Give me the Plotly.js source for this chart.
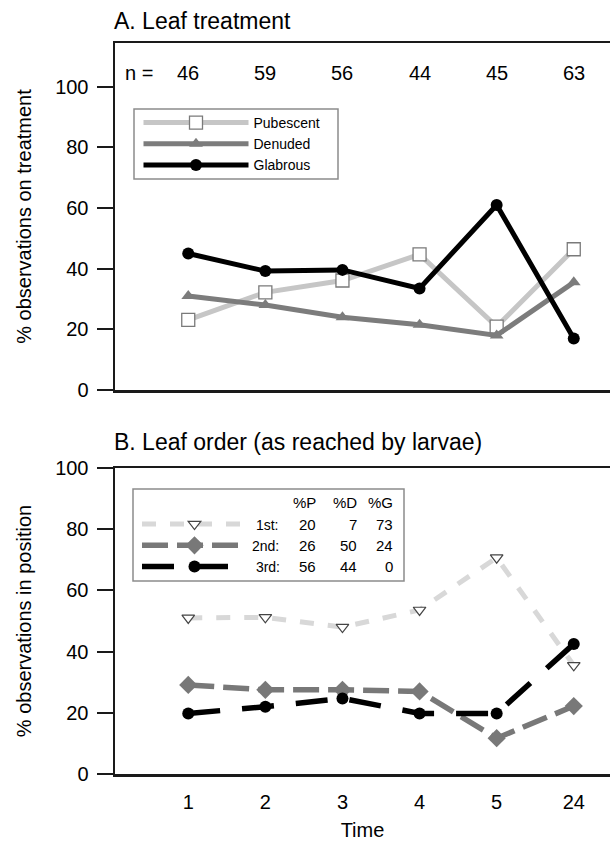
<!DOCTYPE html>
<html>
<head>
<meta charset="utf-8">
<script src="https://cdn.plot.ly/plotly-3.0.1.min.js"></script>
<style>html,body{margin:0;padding:0;background:#fff;}#chart{width:610px;height:843px;}</style>
</head>
<body>
<div id="chart"></div>
<script>
// ---- data ----
const timeLabels = ['1', '2', '3', '4', '5', '24'];
const nObs = [46, 59, 56, 44, 45, 63];
// Panel A: % observations on treatment
const pubescent = [23.1, 32.2, 36.1, 44.7, 20.9, 46.4];
const denuded   = [31.0, 28.0, 24.0, 21.5, 18.0, 35.5];
const glabrous  = [45.0, 39.2, 39.6, 33.5, 61.0, 17.0];
// Panel B: % observations in position
const first  = [51.0, 51.2, 48.0, 53.6, 70.7, 35.5];
const second = [29.1, 27.5, 27.5, 27.0, 11.7, 22.2];
const third  = [19.8, 22.0, 24.7, 19.8, 19.8, 42.5];
// Legend table of panel B
const orderNames = ['\u00A01st:', '2nd:', '\u00A03rd:'];
const tableHeaders = ['%P', '%D', '%G'];
const pctP = [20, 26, 56];
const pctD = [7, 50, 44];
const pctG = [73, 24, 0];

const FONT = 'Liberation Sans, Arial, Helvetica, sans-serif';

// pixel helpers (plot area: l=115, t=43, w=495, h=731)
const L = 115, T = 43, W = 495, H = 731;
const px = x => (x - L) / W;
const py = y => (T + H - y) / H;

const traces = [
  {x: timeLabels, y: pubescent, name: 'Pubescent', xaxis: 'x', yaxis: 'y', legend: 'legend',
   mode: 'lines+markers', line: {color: '#c6c6c6', width: 5},
   marker: {symbol: 'square', size: 13, color: '#ffffff', line: {color: '#7a7a7a', width: 1.3}}},
  {x: timeLabels, y: denuded, name: 'Denuded', xaxis: 'x', yaxis: 'y', legend: 'legend',
   mode: 'lines+markers', line: {color: '#7c7c7c', width: 5},
   marker: {symbol: 'triangle-up', size: 12, color: '#7c7c7c'}},
  {x: timeLabels, y: glabrous, name: 'Glabrous', xaxis: 'x', yaxis: 'y', legend: 'legend',
   mode: 'lines+markers', line: {color: '#000000', width: 5},
   marker: {symbol: 'circle', size: 12, color: '#000000'}},
  {x: timeLabels, y: first, name: orderNames[0], xaxis: 'x2', yaxis: 'y2', legend: 'legend2',
   mode: 'lines+markers', line: {color: '#d8d8d8', width: 5, dash: '14px,14px'},
   marker: {symbol: 'triangle-down', size: 11, color: '#ffffff', line: {color: '#444444', width: 1.2}}},
  {x: timeLabels, y: second, name: orderNames[1], xaxis: 'x2', yaxis: 'y2', legend: 'legend2',
   mode: 'lines+markers', line: {color: '#787878', width: 5.5, dash: '26px,9px'},
   marker: {symbol: 'diamond', size: 14, color: '#787878'}},
  {x: timeLabels, y: third, name: orderNames[2], xaxis: 'x2', yaxis: 'y2', legend: 'legend2',
   mode: 'lines+markers', line: {color: '#000000', width: 5.5, dash: '32px,22px'},
   marker: {symbol: 'circle', size: 12, color: '#000000'}}
];

const xCommon = {
  type: 'category', range: [-0.95, 5.47], showline: true, linecolor: '#1a1a1a', linewidth: 2.5,
  mirror: true, ticks: '', showgrid: false, zeroline: false, fixedrange: true,
  tickfont: {family: FONT, size: 20, color: '#000'}
};
const yCommon = {
  showline: true, linecolor: '#1a1a1a', linewidth: 2.5, ticks: 'outside', ticklen: 16,
  tickwidth: 2, tickcolor: '#1a1a1a', showgrid: false, zeroline: false, fixedrange: true,
  ticklabelstandoff: 4,
  tickvals: [0, 20, 40, 60, 80, 100], tickfont: {family: FONT, size: 20, color: '#000'}
};

const annotations = [];
annotations.push({text: 'A. Leaf treatment', xref: 'paper', yref: 'paper', x: px(112), y: py(21),
  xanchor: 'left', yanchor: 'middle', showarrow: false, font: {family: FONT, size: 23, color: '#000'}});
annotations.push({text: 'B. Leaf order (as reached by larvae)', xref: 'paper', yref: 'paper', x: px(112), y: py(442),
  xanchor: 'left', yanchor: 'middle', showarrow: false, font: {family: FONT, size: 23, color: '#000'}});
annotations.push({text: 'n =', xref: 'paper', yref: 'y', x: px(123), y: 104.5,
  xanchor: 'left', yanchor: 'middle', showarrow: false, font: {family: FONT, size: 20, color: '#000'}});
nObs.forEach((n, i) => {
  annotations.push({text: String(n), xref: 'x', yref: 'y', x: i, y: 104.5,
    xanchor: 'center', yanchor: 'middle', showarrow: false, font: {family: FONT, size: 20, color: '#000'}});
});
// legend table (panel B)
const colRight = [px(318), px(359), px(395)];
const rowY = [py(524), py(545), py(566)];
tableHeaders.forEach((h, j) => {
  annotations.push({text: h, xref: 'paper', yref: 'paper', x: colRight[j], y: py(502),
    xanchor: 'right', yanchor: 'middle', showarrow: false, font: {family: FONT, size: 15, color: '#000'}});
});
[pctP, pctD, pctG].forEach((col, j) => {
  col.forEach((v, i) => {
    annotations.push({text: String(v), xref: 'paper', yref: 'paper', x: colRight[j], y: rowY[i],
      xanchor: 'right', yanchor: 'middle', showarrow: false, font: {family: FONT, size: 15, color: '#000'}});
  });
});

const layout = {
  width: 610, height: 843,
  margin: {l: L, r: 0, t: T, b: 843 - T - H},
  paper_bgcolor: '#fff', plot_bgcolor: '#fff',
  font: {family: FONT, color: '#000'},
  showlegend: true,
  xaxis: Object.assign({}, xCommon, {anchor: 'y', domain: [0, 1], showticklabels: false}),
  yaxis: Object.assign({}, yCommon, {anchor: 'x', domain: [py(390), 1], range: [0, 114.4],
    title: {text: '% observations on treatment', font: {family: FONT, size: 20, color: '#000'}, standoff: 18}}),
  xaxis2: Object.assign({}, xCommon, {anchor: 'y2', domain: [0, 1], showticklabels: true,
    ticklabelstandoff: 8,
    title: {text: 'Time', font: {family: FONT, size: 20, color: '#000'}, standoff: 12}}),
  yaxis2: Object.assign({}, yCommon, {anchor: 'x2', domain: [0, py(468)], range: [0, 100],
    title: {text: '% observations in position', font: {family: FONT, size: 20, color: '#000'}, standoff: 18}}),
  legend: {x: px(138.5), y: py(107), xanchor: 'left', yanchor: 'top', xref: 'paper', yref: 'paper',
    bgcolor: 'rgba(0,0,0,0)', borderwidth: 0, itemwidth: 105,
    font: {family: FONT, size: 14, color: '#000'}, traceorder: 'normal'},
  legend2: {x: px(137), y: py(508.5), xanchor: 'left', yanchor: 'top', xref: 'paper', yref: 'paper',
    bgcolor: 'rgba(0,0,0,0)', borderwidth: 0, itemwidth: 105,
    font: {family: FONT, size: 14, color: '#000'}, traceorder: 'normal'},
  shapes: [
    {type: 'rect', xref: 'paper', yref: 'paper', x0: px(134), x1: px(338), y0: py(179), y1: py(109),
     line: {color: '#8c8c8c', width: 1.5}, fillcolor: '#ffffff', layer: 'above'},
    {type: 'rect', xref: 'paper', yref: 'paper', x0: px(133), x1: px(404), y0: py(581), y1: py(489),
     line: {color: '#8c8c8c', width: 1.5}, fillcolor: 'rgba(0,0,0,0)', layer: 'below'}
  ],
  annotations: annotations
};

Plotly.newPlot('chart', traces, layout, {displayModeBar: false, staticPlot: true});
</script>
</body>
</html>
